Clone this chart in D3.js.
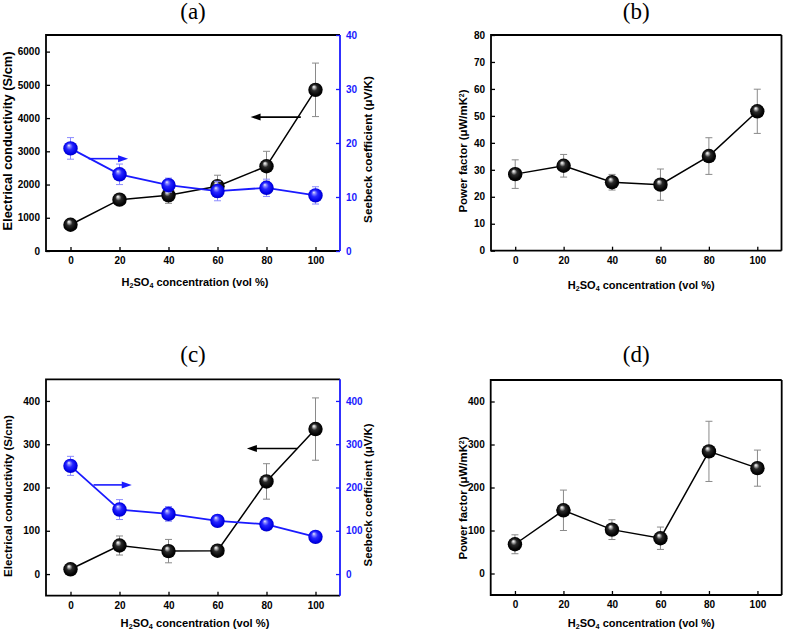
<!DOCTYPE html>
<html>
<head>
<meta charset="utf-8">
<script src="https://cdn.jsdelivr.net/npm/d3@7"></script>
<style>
  html, body { margin: 0; padding: 0; background: #fff; }
  text { font-family: "Liberation Sans", Arial, sans-serif; }
</style>
</head>
<body>
<svg id="chart" width="787" height="634"></svg>
<script>
// ---------------- DATA ----------------
const conc = [0, 20, 40, 60, 80, 100];

// Panel (a)
const condA = [790, 1545, 1675, 1950, 2550, 4850];
const condAErr = [40, 60, 240, 330, 450, 805];
const seebA = [19.0, 14.2, 12.2, 11.1, 11.7, 10.3];
const seebAErr = [2.0, 1.9, 1.3, 1.8, 1.6, 1.6];

// Panel (b)
const pfB = [28.4, 31.5, 25.4, 24.5, 35.1, 51.7];
const pfBErr = [5.3, 4.2, 2.9, 5.8, 6.8, 8.2];

// Panel (c)
const condC = [11, 66, 53, 54, 214, 335];
const condCErr = [3, 22, 27, 3, 41, 72];
const seebC = [250, 149, 139, 123, 115, 86];
const seebCErr = [22, 23, 17, 3, 3, 3];

// Panel (d)
const pfD = [68, 147, 102, 82, 284, 245];
const pfDErr = [22, 47, 23, 26, 70, 42];

// Tick values
const xTicks = [0, 20, 40, 60, 80, 100];
const condATicks = [0, 1000, 2000, 3000, 4000, 5000, 6000];
const seebATicks = [0, 10, 20, 30, 40];
const pfBTicks = [0, 10, 20, 30, 40, 50, 60, 70, 80];
const cTicks = [0, 100, 200, 300, 400];

// Arrow annotations (data units: [x1, x2, y])
const arrowA_black = [94, 73.5, 4030];  // left-pointing, left axis
const arrowA_blue = [7.4, 23.5, 17.1];  // right-pointing, right axis
const arrowC_black = [92.5, 72, 290];
const arrowC_blue = [9.4, 25, 206];

// ---------------- DRAW ----------------
const svg = d3.select("#chart");
const BLUE = "#1a1aff";
const fmt = d3.format("d");

const defs = svg.append("defs");
function ballGrad(id, stops) {
  const g = defs.append("radialGradient").attr("id", id)
    .attr("cx", "50%").attr("cy", "50%").attr("r", "55%")
    .attr("fx", "38%").attr("fy", "28%");
  stops.forEach(s => g.append("stop").attr("offset", s[0]).attr("stop-color", s[1]));
}
ballGrad("ballBlack", [["0%", "#ffffff"], ["14%", "#bdbdbd"], ["38%", "#2a2a2a"], ["75%", "#050505"], ["100%", "#000000"]]);
ballGrad("ballBlue", [["0%", "#f2f2ff"], ["16%", "#8c8cff"], ["42%", "#2626ff"], ["80%", "#0000e6"], ["100%", "#0000b0"]]);

function fit(sel, target) {
  const len = sel.node().getComputedTextLength();
  const fs = parseFloat(sel.style("font-size"));
  sel.style("font-size", (fs * target / len) + "px");
}

function panel(cfg) {
  const g = svg.append("g");
  const x = d3.scaleLinear().domain([-10, 110]).range([cfg.x0, cfg.x1]);
  const y = d3.scaleLinear().domain(cfg.yDomain).range([cfg.y1, cfg.y0]);
  const yR = cfg.yRDomain ? d3.scaleLinear().domain(cfg.yRDomain).range([cfg.y1, cfg.y0]) : null;

  g.append("text").attr("x", (cfg.x0 + cfg.x1) / 2).attr("y", cfg.titleY)
    .attr("text-anchor", "middle")
    .style("font-family", "'Liberation Serif', 'Times New Roman', serif")
    .style("font-size", "23px").text(cfg.title);

  const tickFont = "10px";
  const xAxis = d3.axisBottom(x).tickValues(xTicks).tickFormat(fmt).tickSizeInner(-4).tickSizeOuter(0).tickPadding(6);
  const gx = g.append("g").attr("transform", `translate(0,${cfg.y1})`).call(xAxis);
  gx.select(".domain").remove();
  gx.selectAll("line").attr("stroke", "#000").attr("stroke-width", 1.3);
  gx.selectAll("text").style("font-size", tickFont).style("font-weight", "bold").attr("fill", "#000");

  const yAxis = d3.axisLeft(y).tickValues(cfg.yTicks).tickFormat(fmt).tickSizeInner(-4).tickSizeOuter(0).tickPadding(6);
  const gy = g.append("g").attr("transform", `translate(${cfg.x0},0)`).call(yAxis);
  gy.select(".domain").remove();
  gy.selectAll("line").attr("stroke", "#000").attr("stroke-width", 1.3);
  gy.selectAll("text").style("font-size", tickFont).style("font-weight", "bold").attr("fill", "#000");

  g.append("path")
    .attr("d", `M${cfg.x1},${cfg.y0} L${cfg.x0},${cfg.y0} L${cfg.x0},${cfg.y1} L${cfg.x1},${cfg.y1}`)
    .attr("fill", "none").attr("stroke", "#000").attr("stroke-width", 1.8);

  if (yR) {
    const yAxisR = d3.axisRight(yR).tickValues(cfg.yRTicks).tickFormat(fmt).tickSizeInner(-4).tickSizeOuter(0).tickPadding(6);
    const gr = g.append("g").attr("transform", `translate(${cfg.x1},0)`).call(yAxisR);
    gr.select(".domain").remove();
    gr.selectAll("line").attr("stroke", BLUE).attr("stroke-width", 1.3);
    gr.selectAll("text").style("font-size", tickFont).style("font-weight", "bold").attr("fill", BLUE);
    g.append("line").attr("x1", cfg.x1).attr("x2", cfg.x1).attr("y1", cfg.y0).attr("y2", cfg.y1)
      .attr("stroke", BLUE).attr("stroke-width", 1.8);
  } else {
    g.append("line").attr("x1", cfg.x1).attr("x2", cfg.x1).attr("y1", cfg.y0).attr("y2", cfg.y1)
      .attr("stroke", "#000").attr("stroke-width", 1.8);
  }

  // x title
  const xt = g.append("text").attr("x", (cfg.x0 + cfg.x1) / 2 + (cfg.xTitleDx || 0)).attr("y", cfg.xTitleY)
    .attr("text-anchor", "middle").style("font-size", "10.5px").style("font-weight", "bold");
  xt.append("tspan").text("H");
  xt.append("tspan").attr("baseline-shift", "-30%").style("font-size", "0.65em").text("2");
  xt.append("tspan").text("SO");
  xt.append("tspan").attr("baseline-shift", "-30%").style("font-size", "0.65em").text("4");
  xt.append("tspan").text(" concentration (vol %)");
  fit(xt, cfg.xTitleLen);

  const lt = g.append("text")
    .attr("transform", `translate(${cfg.yTitleX},${cfg.yTitleMid}) rotate(-90)`)
    .attr("text-anchor", "middle").style("font-size", "12px").style("font-weight", "bold");
  cfg.yTitle(lt);
  fit(lt, cfg.yTitleLen);

  if (yR) {
    const rt = g.append("text")
      .attr("transform", `translate(${cfg.yRTitleX},${cfg.yRTitleMid}) rotate(-90)`)
      .attr("text-anchor", "middle").style("font-size", "12px").style("font-weight", "bold")
      .text("Seebeck coefficient (\u03BCV/K)");
    fit(rt, cfg.yRTitleLen);
  }

  return { g, x, y, yR };
}

function series(p, ys, vals, errs, lineColor, errColor, grad, lw) {
  const g = p.g.append("g");
  const pts = conc.map((c, i) => ({ c, v: vals[i], e: errs[i] }));
  const eb = g.selectAll(".eb").data(pts).enter().append("g").attr("stroke", errColor).attr("stroke-width", 1);
  eb.append("line").attr("x1", d => p.x(d.c)).attr("x2", d => p.x(d.c))
    .attr("y1", d => ys(d.v - d.e)).attr("y2", d => ys(d.v + d.e));
  eb.append("line").attr("x1", d => p.x(d.c) - 3.5).attr("x2", d => p.x(d.c) + 3.5)
    .attr("y1", d => ys(d.v + d.e)).attr("y2", d => ys(d.v + d.e));
  eb.append("line").attr("x1", d => p.x(d.c) - 3.5).attr("x2", d => p.x(d.c) + 3.5)
    .attr("y1", d => ys(d.v - d.e)).attr("y2", d => ys(d.v - d.e));
  g.append("path").datum(pts)
    .attr("d", d3.line().x(d => p.x(d.c)).y(d => ys(d.v)))
    .attr("fill", "none").attr("stroke", lineColor).attr("stroke-width", lw);
  g.selectAll(".ball").data(pts).enter().append("circle")
    .attr("cx", d => p.x(d.c)).attr("cy", d => ys(d.v)).attr("r", 7.2)
    .attr("fill", `url(#${grad})`);
}

function arrow(p, ys, a, color) {
  const x1 = p.x(a[0]), x2 = p.x(a[1]), yy = ys(a[2]);
  const dir = Math.sign(x2 - x1);
  const headL = 10, headW = 3.5;
  p.g.append("line").attr("x1", x1).attr("x2", x2 - dir * headL + dir * 1).attr("y1", yy).attr("y2", yy)
    .attr("stroke", color).attr("stroke-width", 1.6);
  p.g.append("path")
    .attr("d", `M${x2},${yy} L${x2 - dir * headL},${yy - headW} L${x2 - dir * headL},${yy + headW} Z`)
    .attr("fill", color);
}

function condTitle(t) { t.text("Electrical conductivity (S/cm)"); }
function pfTitle(t) {
  t.append("tspan").text("Power factor (\u03BCW/mK");
  t.append("tspan").attr("baseline-shift", "super").style("font-size", "0.6em").text("2");
  t.append("tspan").text(")");
}

// (a)
const pa = panel({
  title: "(a)", titleY: 19, x0: 46, x1: 340, y0: 35, y1: 251,
  yDomain: [0, 6500], yTicks: condATicks, yRDomain: [0, 40], yRTicks: seebATicks,
  xTitleY: 285.5, xTitleLen: 147, xTitleDx: 2,
  yTitleX: 12, yTitleMid: 141, yTitleLen: 179, yTitle: condTitle,
  yRTitleX: 371.5, yRTitleMid: 149.5, yRTitleLen: 147
});
series(pa, pa.y, condA, condAErr, "#000", "#8a8a8a", "ballBlack", 1.5);
series(pa, pa.yR, seebA, seebAErr, BLUE, "#8c8cff", "ballBlue", 1.8);
arrow(pa, pa.y, arrowA_black, "#000");
arrow(pa, pa.yR, arrowA_blue, BLUE);

// (b)
const pb = panel({
  title: "(b)", titleY: 19, x0: 491, x1: 781.5, y0: 35, y1: 250.7,
  yDomain: [0, 80], yTicks: pfBTicks,
  xTitleY: 289, xTitleLen: 147, xTitleDx: 5,
  yTitleX: 467, yTitleMid: 151, yTitleLen: 123, yTitle: pfTitle
});
series(pb, pb.y, pfB, pfBErr, "#000", "#8a8a8a", "ballBlack", 1.5);

// (c)
const pc = panel({
  title: "(c)", titleY: 362, x0: 46, x1: 340, y0: 379.3, y1: 595.7,
  yDomain: [-50, 450], yTicks: cTicks, yRDomain: [-50, 450], yRTicks: cTicks,
  xTitleY: 627, xTitleLen: 149, xTitleDx: 2,
  yTitleX: 12, yTitleMid: 496, yTitleLen: 162, yTitle: condTitle,
  yRTitleX: 371.5, yRTitleMid: 495, yRTitleLen: 143
});
series(pc, pc.y, condC, condCErr, "#000", "#8a8a8a", "ballBlack", 1.5);
series(pc, pc.yR, seebC, seebCErr, BLUE, "#8c8cff", "ballBlue", 1.8);
arrow(pc, pc.y, arrowC_black, "#000");
arrow(pc, pc.yR, arrowC_blue, BLUE);

// (d)
const pd = panel({
  title: "(d)", titleY: 362, x0: 490.7, x1: 781.7, y0: 380, y1: 595,
  yDomain: [-50, 450], yTicks: cTicks,
  xTitleY: 627, xTitleLen: 147, xTitleDx: 5,
  yTitleX: 467, yTitleMid: 498, yTitleLen: 123, yTitle: pfTitle
});
series(pd, pd.y, pfD, pfDErr, "#000", "#8a8a8a", "ballBlack", 1.5);
</script>
</body>
</html>
